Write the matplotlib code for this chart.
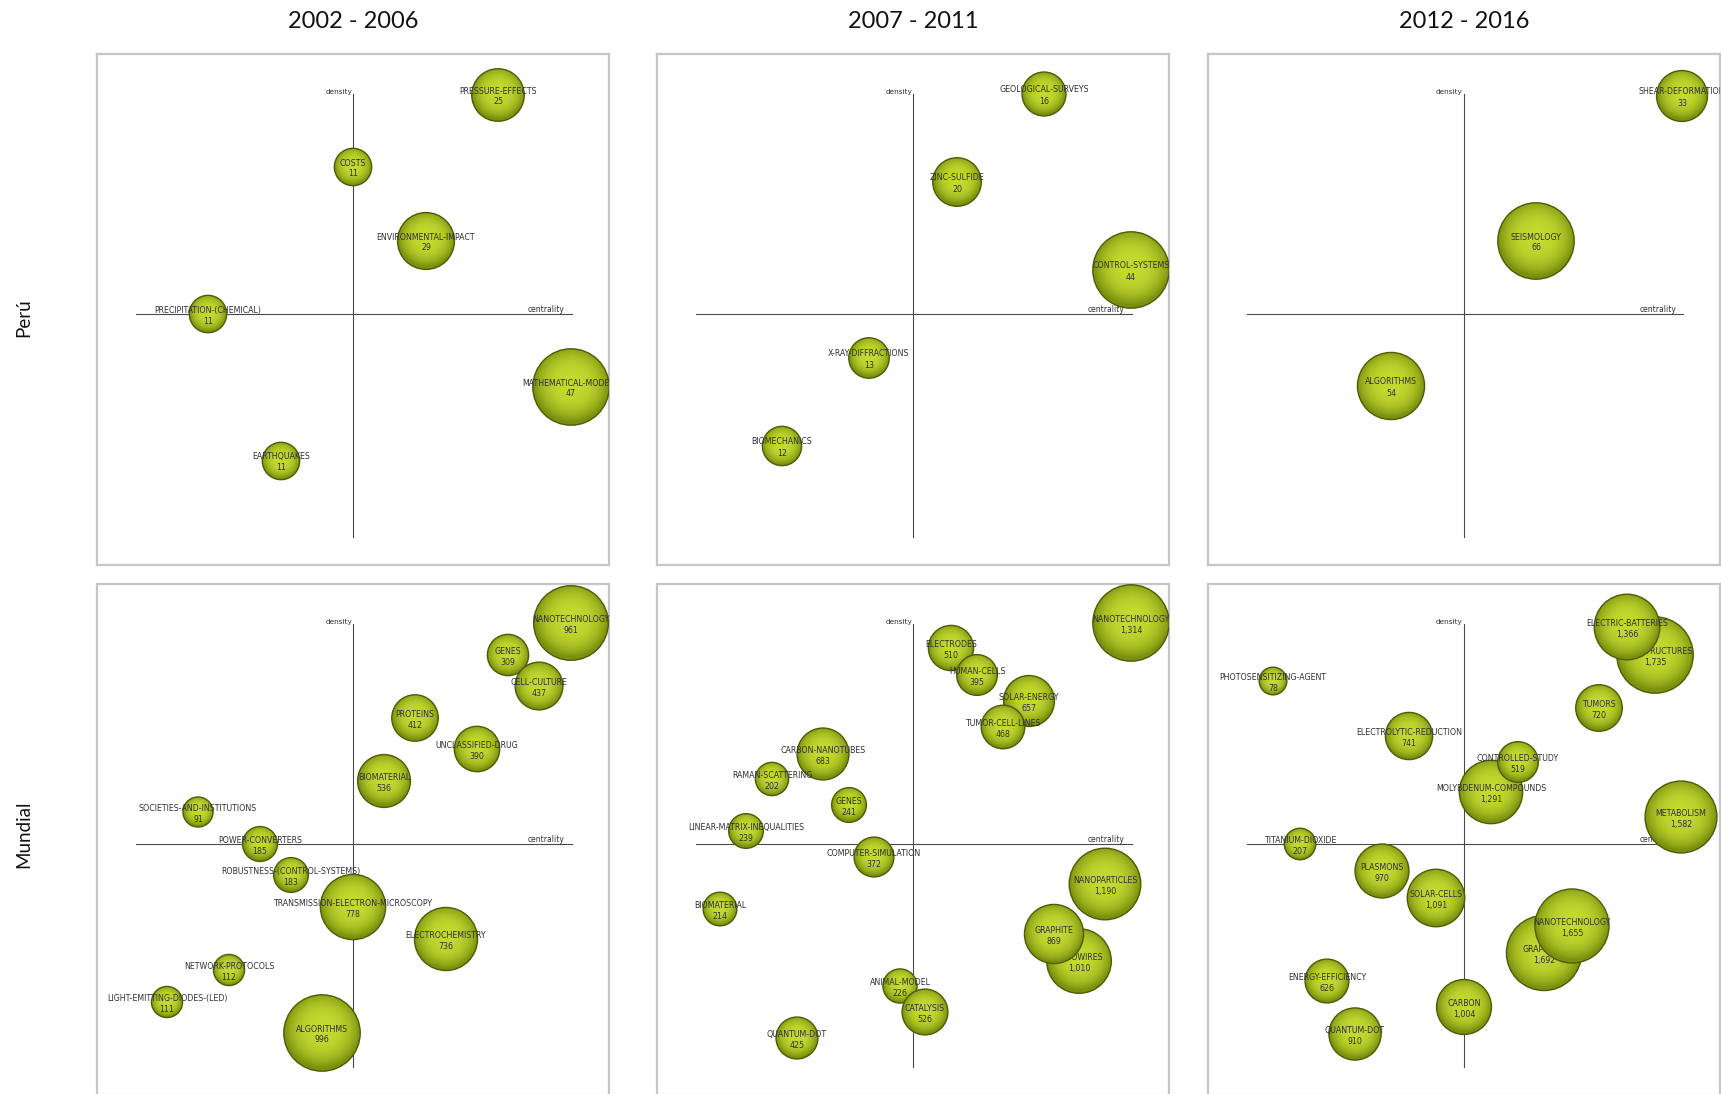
import matplotlib
matplotlib.use("Agg")
import matplotlib.pyplot as plt
from matplotlib.patches import Circle
from matplotlib.colors import to_rgb
import numpy as np

# Headings
periods = ["2002 - 2006", "2007 - 2011", "2012 - 2016"]
regions = ["Perú", "Mundial"]

# Perú 2002-2006  (centrality / density = position in the strategic diagram)
peru1_names = ["PRECIPITATION-(CHEMICAL)", "EARTHQUAKES", "COSTS", "ENVIRONMENTAL-IMPACT",
               "PRESSURE-EFFECTS", "MATHEMATICAL-MODELS"]
peru1_docs = [11, 11, 11, 29, 25, 47]
peru1_cent = [-145, -72, 0, 73, 145, 218]
peru1_dens = [0, -147, 147, 73, 219, -73]

# Perú 2007-2011
peru2_names = ["BIOMECHANICS", "X-RAY-DIFFRACTIONS", "ZINC-SULFIDE", "GEOLOGICAL-SURVEYS",
               "CONTROL-SYSTEMS"]
peru2_docs = [12, 13, 20, 16, 44]
peru2_cent = [-131, -44, 44, 131, 218]
peru2_dens = [-132, -44, 132, 220, 44]

# Perú 2012-2016
peru3_names = ["ALGORITHMS", "SEISMOLOGY", "SHEAR-DEFORMATION"]
peru3_docs = [54, 66, 33]
peru3_cent = [-73, 72, 218]
peru3_dens = [-72, 73, 218]

# Mundial 2002-2006
world1_names = ["SOCIETIES-AND-INSTITUTIONS", "POWER-CONVERTERS", "ROBUSTNESS-(CONTROL-SYSTEMS)",
                "NETWORK-PROTOCOLS", "LIGHT-EMITTING-DIODES-(LED)", "ALGORITHMS",
                "TRANSMISSION-ELECTRON-MICROSCOPY", "ELECTROCHEMISTRY", "BIOMATERIAL", "PROTEINS",
                "UNCLASSIFIED-DRUG", "GENES", "CELL-CULTURE", "NANOTECHNOLOGY"]
world1_docs = [91, 185, 183, 112, 111, 996, 778, 736, 536, 412, 390, 309, 437, 961]
world1_cent = [-155, -93, -62, -124, -186, -31, 0, 93, 31, 62, 124, 155, 186, 218]
world1_dens = [32, 0, -31, -126, -158, -189, -63, -95, 63, 126, 95, 189, 158, 221]

# Mundial 2007-2011
world2_names = ["COMPUTER-SIMULATION", "LINEAR-MATRIX-INEQUALITIES", "BIOMATERIAL", "GENES",
                "CARBON-NANOTUBES", "RAMAN-SCATTERING", "QUANTUM-DOT", "ANIMAL-MODEL", "CATALYSIS",
                "NANOWIRES", "GRAPHITE", "NANOPARTICLES", "ELECTRODES", "HUMAN-CELLS",
                "SOLAR-ENERGY", "TUMOR-CELL-LINES", "NANOTECHNOLOGY"]
world2_docs = [372, 239, 214, 241, 683, 202, 425, 226, 526, 1010, 869, 1190, 510, 395, 657, 468, 1314]
world2_cent = [-39, -167, -193, -64, -90, -141, -116, -13, 12, 166, 141, 192, 38, 64, 116, 90, 218]
world2_dens = [-13, 13, -65, 39, 90, 65, -194, -142, -168, -117, -90, -40, 196, 169, 143, 117, 221]

# Mundial 2012-2016
world3_names = ["PHOTOSENSITIZING-AGENT", "TITANIUM-DIOXIDE", "ELECTROLYTIC-REDUCTION",
                "MOLYBDENUM-COMPOUNDS", "CONTROLLED-STUDY", "PLASMONS", "SOLAR-CELLS",
                "ENERGY-EFFICIENCY", "QUANTUM-DOT", "CARBON", "GRAPHENE", "NANOTECHNOLOGY",
                "TUMORS", "NANOSTRUCTURES", "ELECTRIC-BATTERIES", "METABOLISM"]
world3_docs = [78, 207, 741, 1291, 519, 970, 1091, 626, 910, 1004, 1692, 1655, 720, 1735, 1366, 1582]
world3_cent = [-191, -164, -55, 27, 54, -82, -28, -137, -109, 0, 80, 108, 135, 191, 163, 217]
world3_dens = [163, 0, 108, 52, 82, -27, -54, -137, -190, -163, -109, -82, 136, 189, 217, 27]

panels = [
    [(peru1_names, peru1_docs, peru1_cent, peru1_dens),
     (peru2_names, peru2_docs, peru2_cent, peru2_dens),
     (peru3_names, peru3_docs, peru3_cent, peru3_dens)],
    [(world1_names, world1_docs, world1_cent, world1_dens),
     (world2_names, world2_docs, world2_cent, world2_dens),
     (world3_names, world3_docs, world3_cent, world3_dens)],
]

W, H = 1721, 1094
PANEL_LEFT = [97, 657, 1208]
PANEL_TOP = [54, 584]
PANEL_W, PANEL_H = 512, 511
TEXT_COLOR = "#2e3038"


def sphere_image(n=160):
    yy, xx = np.mgrid[-1:1:n * 1j, -1:1:n * 1j]
    rr = np.sqrt(xx ** 2 + (yy + 0.08) ** 2).clip(0, 1)
    centre = np.array(to_rgb("#c4da30"))
    edge = np.array(to_rgb("#7a900e"))
    t = rr ** 2.8
    return centre * (1 - t)[..., None] + edge * t[..., None]


SPHERE = sphere_image()


def draw_panel(ax, names, docs, cent, dens):
    ax.set_xticks([])
    ax.set_yticks([])
    for s in ax.spines.values():
        s.set_color("#c6c6c6")
        s.set_linewidth(1.6)

    # quadrant axes
    ax.plot([-217, 219], [0, 0], color="#4a4a4a", lw=0.8, zorder=1)
    ax.plot([0, 0], [-223, 220], color="#4a4a4a", lw=0.8, zorder=1)
    ax.text(-1, 219, "density", ha="right", va="bottom", fontsize=5.3, color=TEXT_COLOR, zorder=1)
    ax.text(212, 0.5, "centrality", ha="right", va="bottom", fontsize=5.5, color=TEXT_COLOR, zorder=1)

    vmax = max(docs)
    for i, (name, v, x, y) in enumerate(zip(names, docs, cent, dens)):
        r = 12.7 + 25.5 * v / vmax
        z = 3 + 3 * i
        circ = Circle((x, y), r, facecolor="none", edgecolor="#4e5c06", lw=1.0, zorder=z + 1)
        ax.add_patch(circ)
        im = ax.imshow(SPHERE, extent=[x - r, x + r, y - r, y + r], zorder=z,
                       interpolation="bilinear")
        im.set_clip_path(circ)
        ax.text(x, y + 4, name, ha="center", va="center", fontsize=5.7, color=TEXT_COLOR,
                zorder=z + 2, clip_on=True)
        ax.text(x, y - 7, f"{v:,}", ha="center", va="center", fontsize=5.7, color=TEXT_COLOR,
                zorder=z + 2, clip_on=True)

    ax.set_xlim(-256, 256)
    ax.set_ylim(-(PANEL_H - 260), 260)
    ax.set_aspect("auto")


fig = plt.figure(figsize=(W / 100, H / 100), dpi=100)
fig.patch.set_facecolor("white")

for row in range(2):
    for col in range(3):
        left = PANEL_LEFT[col] / W
        bottom = 1 - (PANEL_TOP[row] + PANEL_H) / H
        ax = fig.add_axes([left, bottom, PANEL_W / W, PANEL_H / H])
        draw_panel(ax, *panels[row][col])

for col, label in enumerate(periods):
    fig.text((PANEL_LEFT[col] + PANEL_W / 2) / W, 1 - 22 / H, label, ha="center", va="center",
             fontsize=17, family="Lato", color="#111111")

row_y = [318, 834]
for row, label in enumerate(regions):
    fig.text(24 / W, 1 - row_y[row] / H, label, ha="center", va="center", rotation=90,
             fontsize=13.5, family="Lato", color="#111111")

fig.savefig("out.png", dpi=100)
